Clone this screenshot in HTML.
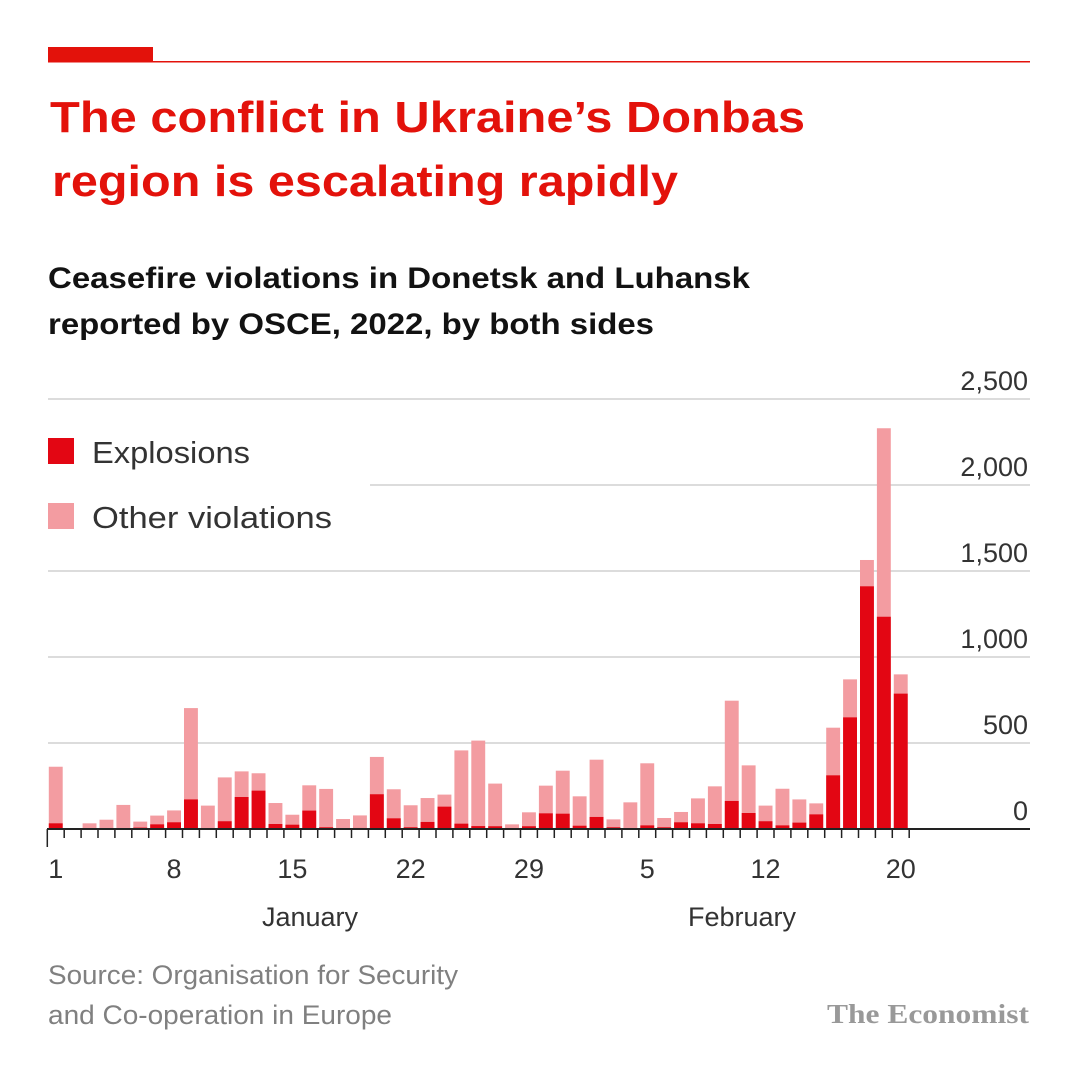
<!DOCTYPE html>
<html><head><meta charset="utf-8"><style>
html,body{margin:0;padding:0;background:#fff;}
svg{display:block;font-family:"Liberation Sans",sans-serif;}
</style></head><body>
<svg id="chart" width="1080" height="1080" viewBox="0 0 1080 1080" xmlns="http://www.w3.org/2000/svg">
<rect x="48" y="47" width="105" height="15" fill="#e3120b"/>
<rect x="48" y="61" width="982" height="1.5" fill="#e3120b"/>
<text x="50" y="132" font-size="44" font-weight="bold" fill="#e3120b" textLength="755" lengthAdjust="spacingAndGlyphs">The conflict in Ukraine’s Donbas</text>
<text x="52" y="196" font-size="44" font-weight="bold" fill="#e3120b" textLength="626" lengthAdjust="spacingAndGlyphs">region is escalating rapidly</text>
<text x="48" y="288" font-size="30" font-weight="bold" fill="#121212" textLength="702" lengthAdjust="spacingAndGlyphs">Ceasefire violations in Donetsk and Luhansk</text>
<text x="48" y="334" font-size="30" font-weight="bold" fill="#121212" textLength="606" lengthAdjust="spacingAndGlyphs">reported by OSCE, 2022, by both sides</text>
<g id="grid"></g>
<g id="bars"></g>
<g id="axis"></g>
<rect x="48" y="438" width="26" height="26" fill="#e30613"/>
<text x="92" y="463" font-size="31" fill="#333" textLength="158" lengthAdjust="spacingAndGlyphs">Explosions</text>
<rect x="48" y="503" width="26" height="26" fill="#f39ca1"/>
<text x="92" y="528" font-size="31" fill="#333" textLength="240" lengthAdjust="spacingAndGlyphs">Other violations</text>
<text x="310" y="926" font-size="27" fill="#333" text-anchor="middle">January</text>
<text x="742" y="926" font-size="27" fill="#333" text-anchor="middle">February</text>
<text x="48" y="984" font-size="27" fill="#808080" textLength="410" lengthAdjust="spacingAndGlyphs">Source: Organisation for Security</text>
<text x="48" y="1024" font-size="27" fill="#808080" textLength="344" lengthAdjust="spacingAndGlyphs">and Co-operation in Europe</text>
<text x="1029" y="1023" font-size="27" font-weight="bold" fill="#999" text-anchor="end" font-family="Liberation Serif, serif" textLength="202" lengthAdjust="spacingAndGlyphs">The Economist</text>
</svg>
<script>
const explosions=[33,0,0,0,4,8,27,39,172,2,45,186,223,29,25,107,10,0,6,202,62,10,41,130,31,17,16,0,16,91,89,19,70,10,0,21,10,39,33,29,163,93,45,21,37,85,312,649,1411,1234,787];
const totals=[362,0,33,54,140,43,78,108,703,136,300,335,324,151,83,254,233,58,79,419,231,138,180,200,457,514,264,27,97,252,339,190,403,56,155,382,64,99,178,248,746,370,136,234,172,149,589,870,1564,2330,899];
const yTicks=[0,500,1000,1500,2000,2500];
const yTickLabels=["0","500","1,000","1,500","2,000","2,500"];
const xLabelDays=[1,8,15,22,29,36,43,51];
const xLabels=["1","8","15","22","29","5","12","20"];
const NS="http://www.w3.org/2000/svg";
const x0=47.3,slot=16.9,y0=829,k=0.172;
const X=i=>x0+i*slot;
const Y=v=>y0-v*k;
function mk(tag,attrs,parent){const e=document.createElementNS(NS,tag);for(const a in attrs)e.setAttribute(a,attrs[a]);document.getElementById(parent).appendChild(e);return e;}
yTicks.forEach((t,i)=>{
  if(t>0){const g=mk('rect',{x:(t===2000?370:48),y:Y(t)-0.75,width:(t===2000?660:982),height:1.5,fill:'#d0d0d0'},'grid');
  
  }
  const l=mk('text',{x:1028,y:Y(t)-9,'font-size':27,fill:'#333','text-anchor':'end'},'grid');
  l.textContent=yTickLabels[i];
  
  
});
totals.forEach((t,i)=>{
  const bx=X(i)+1.5,w=slot-3;
  if(t>0){const r=mk('rect',{x:bx,y:Y(t),width:w,height:t*k,fill:'#f39ca1'},'bars');
  
  }
  const e=explosions[i];
  if(e>0){const r2=mk('rect',{x:bx,y:Y(e),width:w,height:e*k,fill:'#e30613'},'bars');
  
  }
});
const ax=mk('rect',{x:47,y:y0-1,width:983,height:2,fill:'#222'},'axis');


for(let i=0;i<=totals.length;i++){
  const t=mk('rect',{x:X(i)-0.75,y:y0,width:1.5,height:(i===0?18:9),fill:'#222'},'axis');
  
  
}
xLabelDays.forEach((d,i)=>{
  const l=mk('text',{x:X(d-1)+slot/2,y:878,'font-size':27,fill:'#333','text-anchor':'middle'},'axis');
  l.textContent=xLabels[i];
  
  
});
</script>
</body></html>
